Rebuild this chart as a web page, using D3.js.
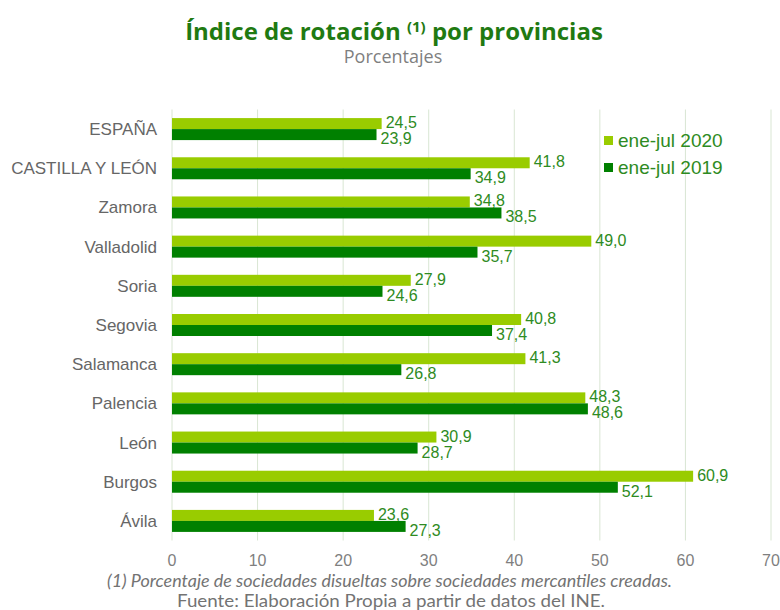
<!DOCTYPE html>
<html>
<head>
<meta charset="utf-8">
<script src="https://cdn.jsdelivr.net/npm/d3@7"></script>
<style>
  body { margin: 0; background: #fff; }
  .sans { font-family: "Liberation Sans", Arimo, Arial, sans-serif; }
</style>
</head>
<body>
<div id="chart"></div>
<script>
var categories = ["ESPAÑA", "CASTILLA Y LEÓN", "Zamora", "Valladolid", "Soria", "Segovia",
                  "Salamanca", "Palencia", "León", "Burgos", "Ávila"];
var values2020 = [24.5, 41.8, 34.8, 49.0, 27.9, 40.8, 41.3, 48.3, 30.9, 60.9, 23.6];
var values2019 = [23.9, 34.9, 38.5, 35.7, 24.6, 37.4, 26.8, 48.6, 28.7, 52.1, 27.3];
var seriesNames = ["ene-jul 2020", "ene-jul 2019"];
var xTicks = [0, 10, 20, 30, 40, 50, 60, 70];

var W = 780, H = 610;
var LIGHT = "#99cc00", DARK = "#008000";
var fmt = function(v) { return d3.format(".1f")(v).replace(".", ","); };

var svg = d3.select("#chart").append("svg")
            .attr("width", W)
            .attr("height", H);

var x = d3.scaleLinear().domain([0, 70]).range([172, 771]);
var y = d3.scaleBand().domain(categories).range([109.5, 540.5]);

// gridlines
svg.append("g")
   .selectAll("line")
   .data(xTicks)
   .join("line")
   .attr("x1", function(d) { return x(d); })
   .attr("x2", function(d) { return x(d); })
   .attr("y1", y.range()[0])
   .attr("y2", y.range()[1])
   .attr("stroke", "#d9e6d3")
   .attr("stroke-width", 1);

// tick labels
svg.append("g")
   .selectAll("text")
   .data(xTicks)
   .join("text")
   .attr("class", "sans")
   .attr("x", function(d) { return x(d); })
   .attr("y", 566)
   .attr("text-anchor", "middle")
   .attr("font-size", "16px")
   .attr("fill", "#7f7f7f")
   .text(function(d) { return d; });

// category labels
svg.append("g")
   .selectAll("text")
   .data(categories)
   .join("text")
   .attr("class", "sans")
   .attr("x", 157)
   .attr("y", function(d) { return y(d) + y.bandwidth() / 2 + 6; })
   .attr("text-anchor", "end")
   .attr("font-size", "17px")
   .attr("fill", "#666666")
   .text(function(d) { return d; });

var barH = 11;
var series = [
  { name: seriesNames[0], values: values2020, color: LIGHT, off: -barH, dy: -1 },
  { name: seriesNames[1], values: values2019, color: DARK, off: 0, dy: 15 }
];

series.forEach(function(s) {
  var g = svg.append("g");
  g.selectAll("rect")
   .data(categories)
   .join("rect")
   .attr("x", x(0))
   .attr("y", function(d) { return y(d) + y.bandwidth() / 2 + s.off; })
   .attr("width", function(d, i) { return x(s.values[i]) - x(0); })
   .attr("height", barH)
   .attr("fill", s.color);

  g.selectAll("text")
   .data(categories)
   .join("text")
   .attr("class", "sans")
   .attr("x", function(d, i) { return x(s.values[i]) + 4; })
   .attr("y", function(d) { return y(d) + y.bandwidth() / 2 + s.dy; })
   .attr("font-size", "16px")
   .attr("fill", "#2e8b22")
   .text(function(d, i) { return fmt(s.values[i]); });
});

// legend
var legend = svg.append("g").attr("transform", "translate(604,136)");
series.forEach(function(s, i) {
  legend.append("rect")
        .attr("x", 0)
        .attr("y", i * 27)
        .attr("width", 9)
        .attr("height", 9)
        .attr("fill", s.color);
  legend.append("text")
        .attr("class", "sans")
        .attr("x", 14)
        .attr("y", i * 27 + 11)
        .attr("font-size", "19px")
        .attr("fill", "#2e8b22")
        .text(s.name);
});

// title
var title = svg.append("text")
               .attr("x", 394)
               .attr("y", 40)
               .attr("text-anchor", "middle")
               .attr("font-family", "'Open Sans', sans-serif")
               .attr("font-weight", "bold")
               .attr("font-size", "24px")
               .attr("fill", "#1f7a12");
title.append("tspan").text("Índice de rotación ");
title.append("tspan").attr("font-size", "15px").attr("dy", "-8").text("(1)");
title.append("tspan").attr("dy", "8").text(" por provincias");

svg.append("text")
   .attr("x", 393)
   .attr("y", 63)
   .attr("text-anchor", "middle")
   .attr("font-family", "'Open Sans', sans-serif")
   .attr("font-size", "18px")
   .attr("fill", "#7f7f7f")
   .text("Porcentajes");

// footnotes
svg.append("text")
   .attr("x", 107)
   .attr("y", 587)
   .attr("font-family", "Lato, sans-serif")
   .attr("font-style", "italic")
   .attr("font-size", "17px")
   .attr("textLength", 565)
   .attr("lengthAdjust", "spacingAndGlyphs")
   .attr("fill", "#737373")
   .text("(1) Porcentaje de sociedades disueltas sobre sociedades mercantiles creadas.");

svg.append("text")
   .attr("x", 177)
   .attr("y", 607)
   .attr("font-family", "Lato, sans-serif")
   .attr("font-size", "17px")
   .attr("textLength", 428)
   .attr("lengthAdjust", "spacingAndGlyphs")
   .attr("fill", "#737373")
   .text("Fuente: Elaboración Propia a partir de datos del INE.");
</script>
</body>
</html>
